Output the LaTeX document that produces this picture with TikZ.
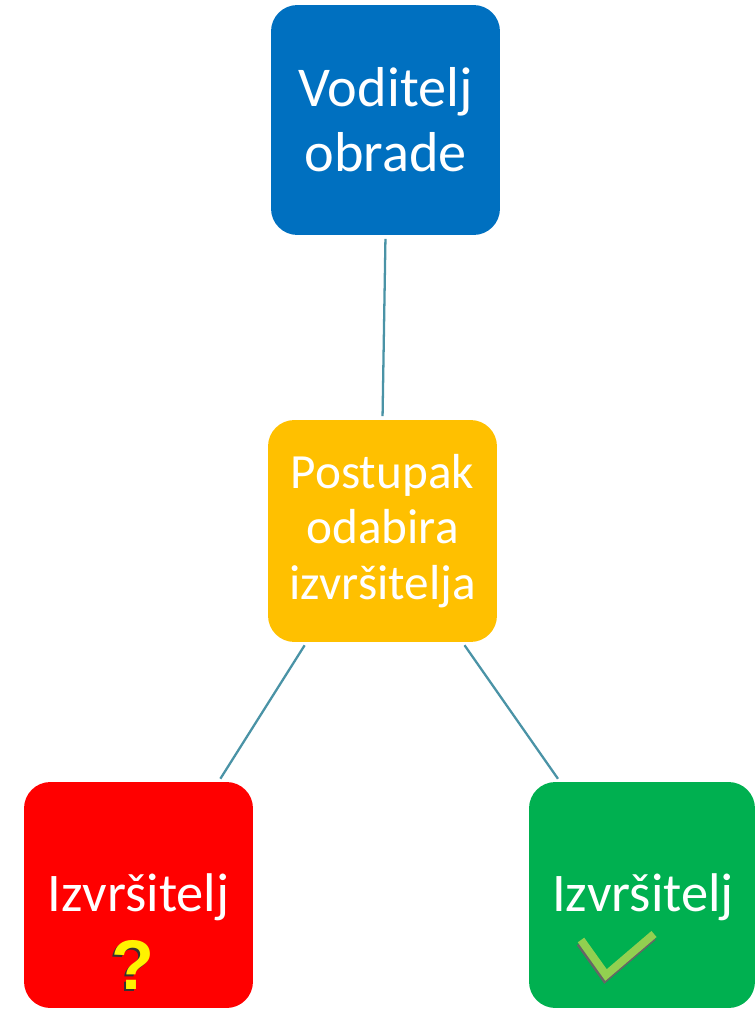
\documentclass[tikz,border=0pt]{standalone}
\usepackage{fontspec}
\setmainfont{Carlito}
\newfontfamily\markfont{Liberation Sans}
\usetikzlibrary{calc}

\definecolor{boxblue}{HTML}{0070C0}
\definecolor{boxyellow}{HTML}{FFC000}
\definecolor{boxred}{HTML}{FF0000}
\definecolor{boxgreen}{HTML}{00B050}
\definecolor{linkteal}{HTML}{4A93A6}
\definecolor{ticklime}{HTML}{92D050}

\tikzset{
  card/.style={rectangle,rounded corners=15pt,minimum width=4.58cm,align=center,
    text=white,inner sep=0pt},
  link/.style={draw=linkteal,line width=1.3pt,shorten <=2pt,shorten >=2pt}
}

\begin{document}
\begin{tikzpicture}[x=0.02cm,y=-0.02cm]
\useasboundingbox (0,0) rectangle (756,1010);

\node [card,fill=boxblue,minimum height=4.6cm,font=\fontsize{32}{37}\selectfont] (voditelj) at (385.5,120) {Voditelj\\obrade};
\node [card,fill=boxyellow,minimum height=4.44cm,font=\fontsize{28}{31.5}\selectfont] (postupak) at (382.5,531) {Postupak\\odabira\\izvršitelja};
\node [card,fill=boxred,minimum height=4.52cm] (upitni) at (138.5,895) {};
\node [card,fill=boxgreen,minimum height=4.52cm,minimum width=4.52cm] (odabrani) at (642,895) {};

\node [text=white,font=\fontsize{31}{35}\selectfont] (upitnitxt) at (138.5,897) {Izvršitelj};
\node [text=white,font=\fontsize{31}{35}\selectfont] (odabranitxt) at (643,897) {Izvršitelj};

% upitnik
\node [text=black!80,font=\markfont\bfseries\fontsize{40}{40}\selectfont] (sjena) at (131,967) {?};
\node [text=yellow,font=\markfont\bfseries\fontsize{40}{40}\selectfont] (upitnik) at (133,965) {?};

% kvacica
\draw [black!60,line width=4.5pt] (580,943)--(605,978)--(653,937);
\draw [ticklime,line width=4.5pt] (581,940)--(606,975)--(654,934);

\draw [link] (voditelj.south)--(postupak.north);
\draw [link] ($(postupak.south)+(-76,0)$)--($(upitni.north)+(80,0)$);
\draw [link] ($(postupak.south)+(80,0)$)--($(odabrani.north)+(-82,0)$);

\end{tikzpicture}
\end{document}
